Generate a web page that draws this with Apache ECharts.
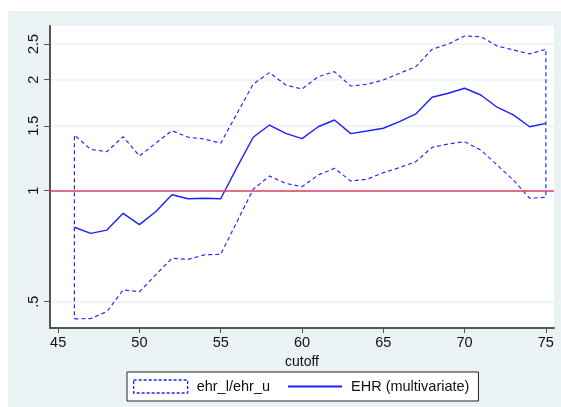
<!DOCTYPE html>
<html>
<head>
<meta charset="utf-8">
<script src="https://cdn.jsdelivr.net/npm/echarts@6/dist/echarts.min.js"></script>
<style>
  html, body { margin: 0; padding: 0; background: #ffffff; }
  #chart { position: absolute; left: 8px; top: 11px; width: 553px; height: 396px; }
</style>
</head>
<body>
<div id="chart"></div>
<script>
// Cutoff values (x) and estimated hazard ratios with their confidence bounds
const cutoffs = [46, 47, 48, 49, 50, 51, 52, 53, 54, 55,
                 56, 57, 58, 59, 60, 61, 62, 63, 64, 65,
                 66, 67, 68, 69, 70, 71, 72, 73, 74, 75];
const ehr = [0.796, 0.766, 0.782, 0.868, 0.809, 0.877, 0.975, 0.951, 0.954, 0.951,
             1.157, 1.396, 1.507, 1.431, 1.384, 1.491, 1.555, 1.428, 1.452, 1.477,
             1.539, 1.615, 1.792, 1.838, 1.896, 1.818, 1.684, 1.605, 1.491, 1.523];
const ehrLower = [0.449, 0.450, 0.470, 0.538, 0.532, 0.591, 0.656, 0.651, 0.670, 0.672,
                  0.824, 1.009, 1.096, 1.047, 1.025, 1.103, 1.150, 1.062, 1.074, 1.119,
                  1.155, 1.199, 1.311, 1.339, 1.358, 1.289, 1.174, 1.069, 0.954, 0.960];
const ehrUpper = [1.416, 1.295, 1.276, 1.401, 1.242, 1.345, 1.455, 1.396, 1.381, 1.345,
                  1.618, 1.947, 2.090, 1.935, 1.887, 2.038, 2.103, 1.923, 1.944, 1.996,
                  2.082, 2.170, 2.419, 2.500, 2.628, 2.617, 2.469, 2.408, 2.349, 2.419];
const xTicks = [45, 50, 55, 60, 65, 70, 75];
const yTicks = [0.5, 1, 1.5, 2, 2.5];
const refValue = 1;

// Outline of the confidence band: lower bound left-to-right, upper bound back, closed
const bandOutline = [];
cutoffs.forEach((c, i) => bandOutline.push([c, ehrLower[i]]));
for (let i = cutoffs.length - 1; i >= 0; i--) bandOutline.push([cutoffs[i], ehrUpper[i]]);
bandOutline.push([cutoffs[0], ehrLower[0]]);

const ehrPoints = cutoffs.map((c, i) => [c, ehr[i]]);

const font = '"Liberation Sans", Arial, sans-serif';
const chart = echarts.init(document.getElementById('chart'), null, { renderer: 'canvas' });

chart.setOption({
  animation: false,
  backgroundColor: '#eaf2f3',
  grid: {
    left: 42, right: 7, top: 15, bottom: 79,
    show: true, backgroundColor: '#ffffff', borderWidth: 0
  },
  legend: {
    left: 119, top: 361,
    orient: 'horizontal',
    backgroundColor: '#ffffff',
    borderColor: '#222222', borderWidth: 1,
    padding: [7, 9, 7, 6],
    itemWidth: 54, itemHeight: 13, itemGap: 17,
    textStyle: { fontFamily: font, fontSize: 14.5, color: '#111111', padding: [0, 0, 0, 4] },
    data: [
      { name: 'ehr_l/ehr_u', icon: 'rect',
        itemStyle: { color: '#ffffff', borderColor: '#1c1cff', borderWidth: 1.3, borderType: [3, 2] } },
      // plain line swatch: the marker drawn on top of it is made fully transparent
      { name: 'EHR (multivariate)', itemStyle: { opacity: 0 } }
    ]
  },
  xAxis: {
    type: 'value',
    min: 44.5, max: 75.5,
    name: 'cutoff', nameLocation: 'middle', nameGap: 22,
    nameTextStyle: { fontFamily: font, fontSize: 14, color: '#111111' },
    axisLine: { show: true, onZero: false, lineStyle: { color: '#555555', width: 2 } },
    axisTick: { show: true, length: 5, customValues: xTicks, lineStyle: { color: '#555555', width: 1 } },
    axisLabel: { customValues: xTicks, fontFamily: font, fontSize: 14.5, color: '#111111', margin: 7 },
    splitLine: { show: false }
  },
  yAxis: {
    type: 'log', logBase: 10,
    min: 0.4242, max: 2.797,
    axisLine: { show: true, lineStyle: { color: '#555555', width: 2 } },
    axisTick: { show: true, length: 6, customValues: yTicks, lineStyle: { color: '#555555', width: 1 } },
    axisLabel: {
      customValues: yTicks, rotate: 90, margin: 9,
      fontFamily: font, fontSize: 14.5, color: '#111111',
      formatter: v => String(v).replace(/^0\./, '.')
    },
    splitLine: { show: true, lineStyle: { color: '#eaf2f3', width: 1.5 } }
  },
  series: [
    {
      name: 'ehr_l/ehr_u', type: 'line', data: bandOutline,
      symbol: 'none', z: 3,
      lineStyle: { color: '#2a2aff', width: 1.2, type: [4, 3] },
      itemStyle: { color: '#2a2aff' }
    },
    {
      name: 'EHR (multivariate)', type: 'line', data: ehrPoints,
      symbol: 'none', z: 4,
      lineStyle: { color: '#1f1fff', width: 1.4 },
      itemStyle: { color: '#1f1fff' },
      markLine: {
        silent: true, symbol: 'none', label: { show: false },
        lineStyle: { color: '#df3f5e', width: 1.6, type: 'solid' },
        data: [{ yAxis: refValue }]
      }
    }
  ]
});
</script>
</body>
</html>
